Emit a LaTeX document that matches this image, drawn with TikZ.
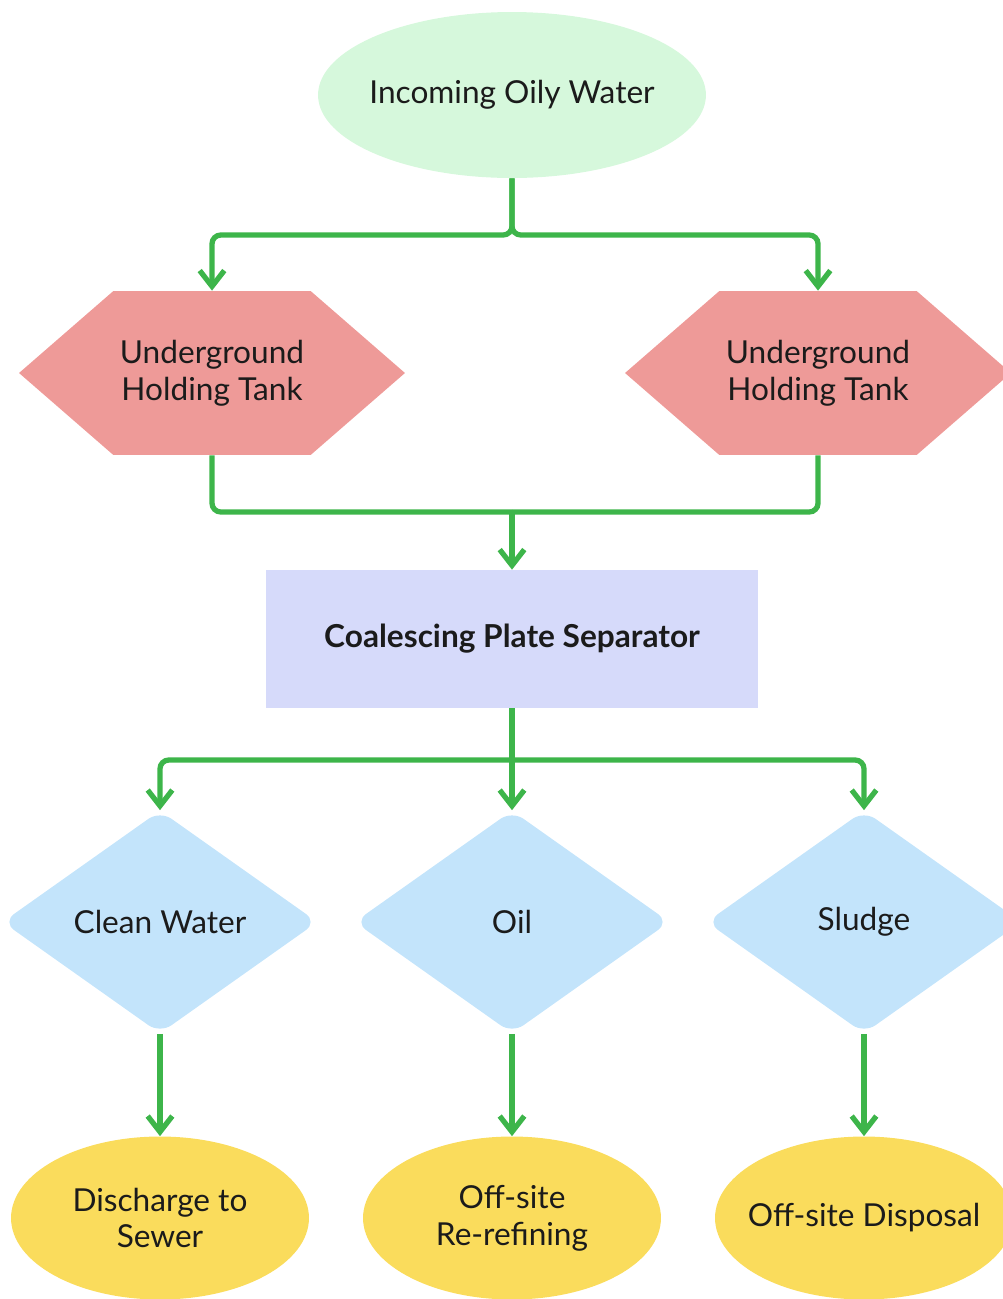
\documentclass[tikz,border=0pt]{standalone}
\usepackage{fontspec}
\setmainfont{Lato}
\usetikzlibrary{shapes.geometric,shapes.symbols,arrows.meta}

\definecolor{flowgreen}{HTML}{3DB54A}
\definecolor{inletgreen}{HTML}{D6F8DC}
\definecolor{tankred}{HTML}{EE9A98}
\definecolor{sepblue}{HTML}{D6DAFA}
\definecolor{outblue}{HTML}{C3E4FB}
\definecolor{sinkyellow}{HTML}{FADC5C}
\definecolor{inktext}{HTML}{1B1B1B}

\tikzset{
  box/.style={text=inktext, align=center, inner sep=0pt,
    font=\fontsize{18}{21}\selectfont},
  inlet/.style={box, ellipse, inner xsep=-0.5cm, fill=inletgreen,
    minimum width=7.76cm, minimum height=3.32cm},
  tank/.style={box, signal, signal to=west and east, signal pointer angle=82,
    fill=tankred, minimum width=7.72cm, minimum height=3.28cm},
  separator/.style={box, rectangle, fill=sepblue, minimum width=9.84cm, minimum height=2.76cm,
    font=\fontsize{18}{21}\selectfont\bfseries},
  stream/.style={box, diamond, aspect=1.41, rounded corners=8pt, fill=outblue,
    minimum width=6.3cm, minimum height=4.46cm},
  sink/.style={box, ellipse, inner xsep=-0.5cm, fill=sinkyellow,
    minimum width=5.96cm, minimum height=3.26cm},
  pipe/.style={draw=flowgreen, line width=3pt, rounded corners=5pt},
  flow/.style={pipe, -{Straight Barb[length=9pt,width=14pt]}}
}

\begin{document}
\begin{tikzpicture}[x=0.02cm,y=-0.02cm]
\useasboundingbox (0,0) rectangle (1002,1299);

% Nodes
\node[inlet] (inlet) at (512,95) {Incoming Oily Water};
\node[tank] (tankL) at (212,373) {Underground\\Holding Tank};
\node[tank] (tankR) at (818,373) {Underground\\Holding Tank};
\node[separator] (cps) at (512,639) {Coalescing Plate Separator};
\node[stream] (water) at (160,922) {Clean Water};
\node[stream] (oil) at (512,922) {Oil};
\node[stream] (sludge) at (864,922) {Sludge};
\node[sink] (sewer) at (160,1218) {Discharge to\\Sewer};
\node[sink] (refine) at (512,1218) {Off-site\\Re-refining};
\node[sink] (disposal) at (864,1218) {Off-site Disposal};

% Junctions
\coordinate (split) at (512,235);
\coordinate (merge) at (512,512);
\coordinate (fork) at (512,760);

% Flows
\draw[flow] (inlet) -- (split) -| (tankL);
\draw[flow] (inlet) -- (split) -| (tankR);

\draw[pipe] (tankL) |- (merge);
\draw[pipe] (tankR) |- (merge);
\draw[flow] (merge) -- (cps);

\draw[flow] (cps) -- (oil);
\draw[flow] (fork) -| (water);
\draw[flow] (fork) -| (sludge);

\draw[flow] (water) -- (sewer);
\draw[flow] (oil) -- (refine);
\draw[flow] (sludge) -- (disposal);

\end{tikzpicture}
\end{document}
